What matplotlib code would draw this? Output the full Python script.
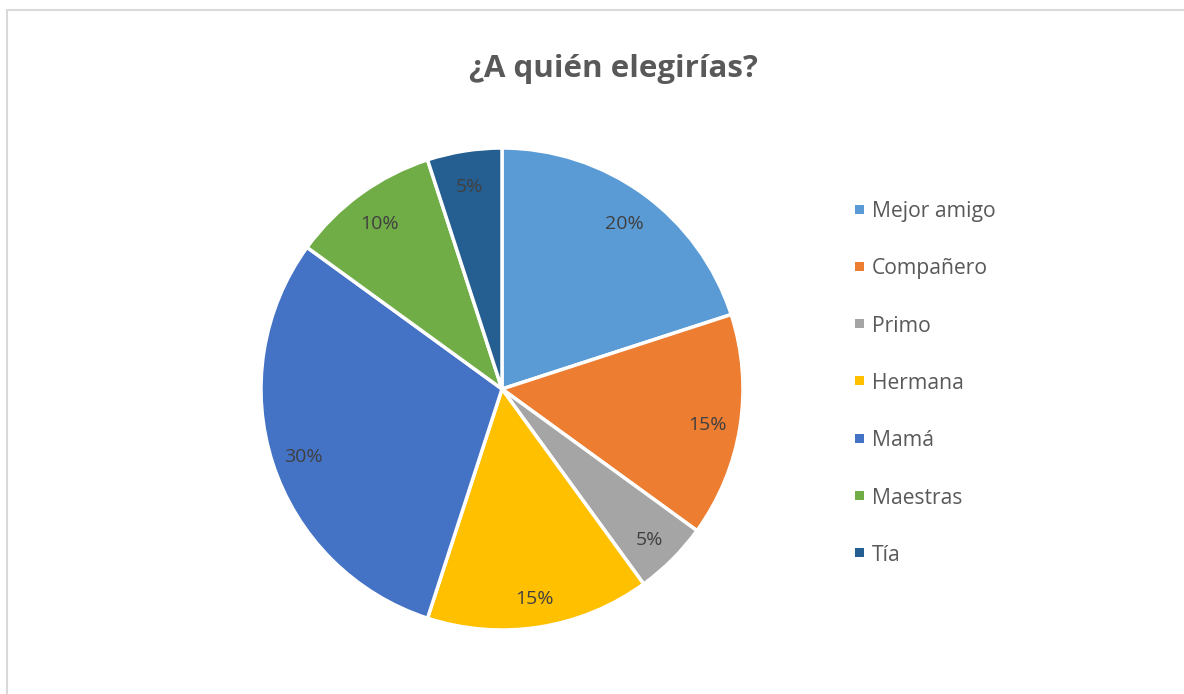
import matplotlib
matplotlib.use("Agg")
import matplotlib.pyplot as plt
from matplotlib.patches import Rectangle

plt.rcParams["font.family"] = ["Open Sans", "DejaVu Sans"]

# data
labels = ["Mejor amigo", "Compañero", "Primo", "Hermana", "Mamá", "Maestras", "Tía"]
shares = [20, 15, 5, 15, 30, 10, 5]
colors = ["#5B9BD5", "#ED7D31", "#A5A5A5", "#FFC000", "#4472C4", "#70AD47", "#255E91"]
title = "¿A quién elegirías?"

W, H = 1184, 694
fig = plt.figure(figsize=(W / 100, H / 100), dpi=100)

# light chart frame (runs off right/bottom edge like the screenshot)
fig.patches.append(Rectangle((7 / W, -0.2), 1.2, 1.2 - 10 / H, transform=fig.transFigure,
                             fill=False, edgecolor="#D9D9D9", lw=1.5))

cx, cy, r = 502, 389, 241
ax = fig.add_axes([(cx - r) / W, 1 - (cy + r) / H, 2 * r / W, 2 * r / H])
wedges, texts, autotexts = ax.pie(
    shares, colors=colors, startangle=90, counterclock=False,
    autopct="%1.0f%%", pctdistance=0.865,
    wedgeprops=dict(edgecolor="white", linewidth=2.5),
    textprops=dict(color="#404040", fontsize=14),
)
# Excel puts the value labels a touch lower than matplotlib does
for t in autotexts:
    x, y = t.get_position()
    t.set_position((x, y - 0.016))
ax.set_xlim(-1, 1); ax.set_ylim(-1, 1)
ax.set_aspect("equal")
ax.axis("off")

fig.text(613 / W, 1 - 69 / H, title, ha="center", va="center",
         fontsize=22.5, fontweight="bold", color="#595959")

# legend, drawn by hand to match Excel's spacing
for i, (lab, col) in enumerate(zip(labels, colors)):
    y = 209 + i * 57.3
    fig.patches.append(Rectangle((855 / W, 1 - (y + 4.5) / H), 9 / W, 9 / H,
                                 transform=fig.transFigure, facecolor=col, edgecolor="none"))
    fig.text(872 / W, 1 - y / H, lab, ha="left", va="center_baseline",
             fontsize=15.2, color="#595959")

fig.savefig("out.png", dpi=100, facecolor="white")
